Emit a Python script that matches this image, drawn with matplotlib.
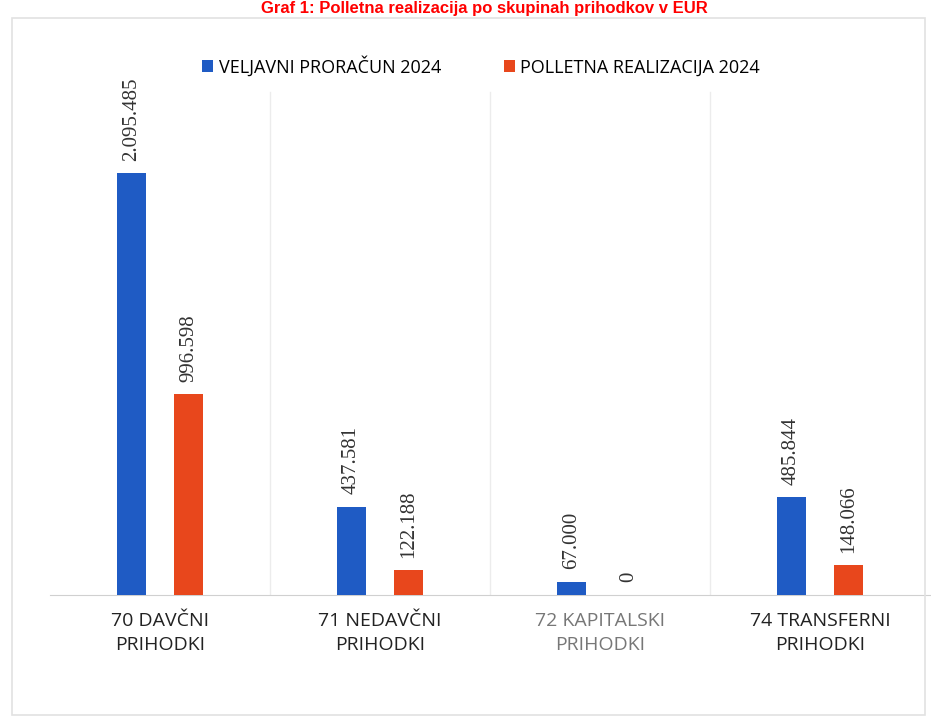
import numpy as np
import matplotlib.pyplot as plt
from matplotlib.patches import Rectangle

categories = ["70 DAVČNI\nPRIHODKI", "71 NEDAVČNI\nPRIHODKI",
              "72 KAPITALSKI\nPRIHODKI", "74 TRANSFERNI\nPRIHODKI"]
proracun = [2095485, 437581, 67000, 485844]
realizacija = [996598, 122188, 0, 148066]
labels_proracun = ["2.095.485", "437.581", "67.000", "485.844"]
labels_realizacija = ["996.598", "122.188", "0", "148.066"]

blue = "#1f5bc4"
orange = "#e8471c"

fig = plt.figure(figsize=(9.31, 7.2), dpi=100)

# outer chart frame
fig.patches.append(Rectangle((12 / 931, 5 / 720), 913 / 931, 697 / 720,
                             transform=fig.transFigure, fill=False,
                             edgecolor="#e2e2e2", linewidth=1.2))

fig.text(0.52, 0.999, "Graf 1: Polletna realizacija po skupinah prihodkov v EUR",
         color="#ff0000", fontsize=12, fontweight="bold", ha="center",
         va="top", family="Liberation Sans")

ax = fig.add_axes([50 / 931, 125 / 720, 880 / 931, 524 / 720])
x = np.arange(len(categories))
w = 0.135
off = 0.13
ax.bar(x - off, proracun, w, color=blue, label="VELJAVNI PRORAČUN 2024", zorder=3)
ax.bar(x + off, realizacija, w, color=orange, label="POLLETNA REALIZACIJA 2024", zorder=3)

ax.set_xlim(-0.5, 3.5)
ax.set_ylim(0, 2602000)

for xi, v, t in zip(x - off, proracun, labels_proracun):
    ax.annotate(t, (xi, v), xytext=(0, 9), textcoords="offset points",
                rotation=90, ha="center", va="bottom", fontsize=15,
                family="Liberation Serif", color="#333333")
for xi, v, t in zip(x + off, realizacija, labels_realizacija):
    ax.annotate(t, (xi, v), xytext=(0, 9), textcoords="offset points",
                rotation=90, ha="center", va="bottom", fontsize=15,
                family="Liberation Serif", color="#333333")

# category separators
for b in [0.5, 1.5, 2.5]:
    ax.plot([b, b], [0, 2500000], color="#ececec", linewidth=1, zorder=1)

for s in ["top", "right", "left"]:
    ax.spines[s].set_visible(False)
ax.spines["bottom"].set_color("#d0d0d0")
ax.set_yticks([])
ax.set_xticks(x)
ax.set_xticklabels(categories, fontsize=14, linespacing=1.45,
                   family="Open Sans", color="#222222")
ax.tick_params(axis="x", length=0, pad=12)
ax.get_xticklabels()[2].set_color("#777777")

ax.legend(loc="upper center", bbox_to_anchor=(0.49, 1.06), ncol=2,
          frameon=False, handlelength=0.6, handleheight=0.6,
          handletextpad=0.3, columnspacing=3.5,
          prop={"family": "Open Sans", "size": 13})

fig.savefig("out.png", dpi=100)
